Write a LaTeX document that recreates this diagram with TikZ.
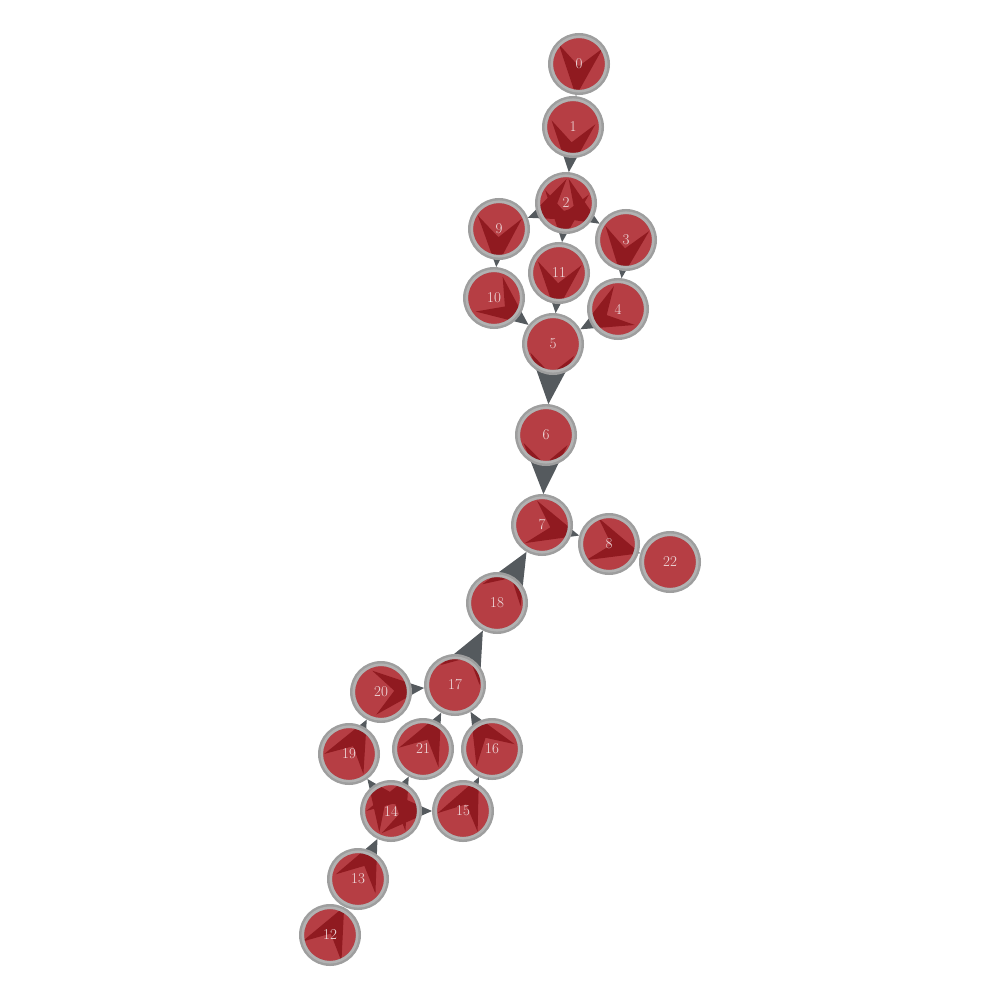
\documentclass[tikz,border=0pt]{standalone}
\usepackage{tikz}
\usetikzlibrary{calc}
\pgfdeclarelayer{background}
\pgfsetlayers{background,main}

\definecolor{vfill}{RGB}{161,8,15}
\definecolor{vring}{RGB}{158,158,158}
\definecolor{vringin}{RGB}{178,178,178}
\definecolor{ecol}{RGB}{85,90,94}
\definecolor{vtext}{RGB}{240,222,224}

\begin{document}
\begin{tikzpicture}[x=1pt, y=-1pt]
    % --- DEFINE STYLES ---
    % Style for the vertices
    \tikzstyle{vtx} = [circle, draw=vring, line width=5pt, fill=vfill, fill opacity=0.78,
                       text opacity=1, text=vtext, inner sep=0pt, minimum size=57pt,
                       font=\fontsize{15}{17}\selectfont]
    % Lighter inner half of the ring
    \tikzstyle{ringin} = [draw=vringin, line width=2.5pt]
    % Style for the edge darts
    \tikzstyle{dart} = [fill=ecol]

    \useasboundingbox (0,0) rectangle (1000,1000);

    % --- VERTICES ---
    \foreach \i/\x/\y in {0/579/64, 1/573/127, 2/566/203, 9/499/229, 3/626/240,
                          11/559/273, 10/494/298, 4/618/309, 5/553/344, 6/546/435,
                          7/542/525, 8/609/544, 22/670/562, 18/497/603, 17/455/685,
                          20/381/692, 21/423/749, 16/492/749, 19/349/754, 14/391/811,
                          15/463/811, 13/358/879, 12/330/935} {
        \node[vtx] (n\i) at (\x,\y) {\i};
        \draw[ringin] (n\i.center) circle (27.3pt);
    }

    % --- EDGES (under the vertices) ---
    \begin{pgfonlayer}{background}
    \foreach \s/\t in {0/1, 1/2, 2/9, 2/3, 2/11, 9/10, 3/4, 11/5, 10/5, 4/5,
                       5/6, 6/7, 7/8, 8/22, 18/7, 17/18, 20/17, 21/17, 16/17,
                       19/20, 14/19, 14/21, 14/15, 15/16, 13/14, 12/13} {
        % tip on the ring of the target, wings back towards the source
        \path ($(n\t.center)!31pt!(n\s.center)$) coordinate (tip);
        \path ($(tip)!50pt!(n\s.center)$) coordinate (base);
        \fill[dart] (tip) -- ($(base)!22pt!90:(tip)$)
                    -- ($(tip)!30pt!(n\s.center)$)
                    -- ($(base)!22pt!-90:(tip)$) -- cycle;
    }
    \end{pgfonlayer}
\end{tikzpicture}
\end{document}
